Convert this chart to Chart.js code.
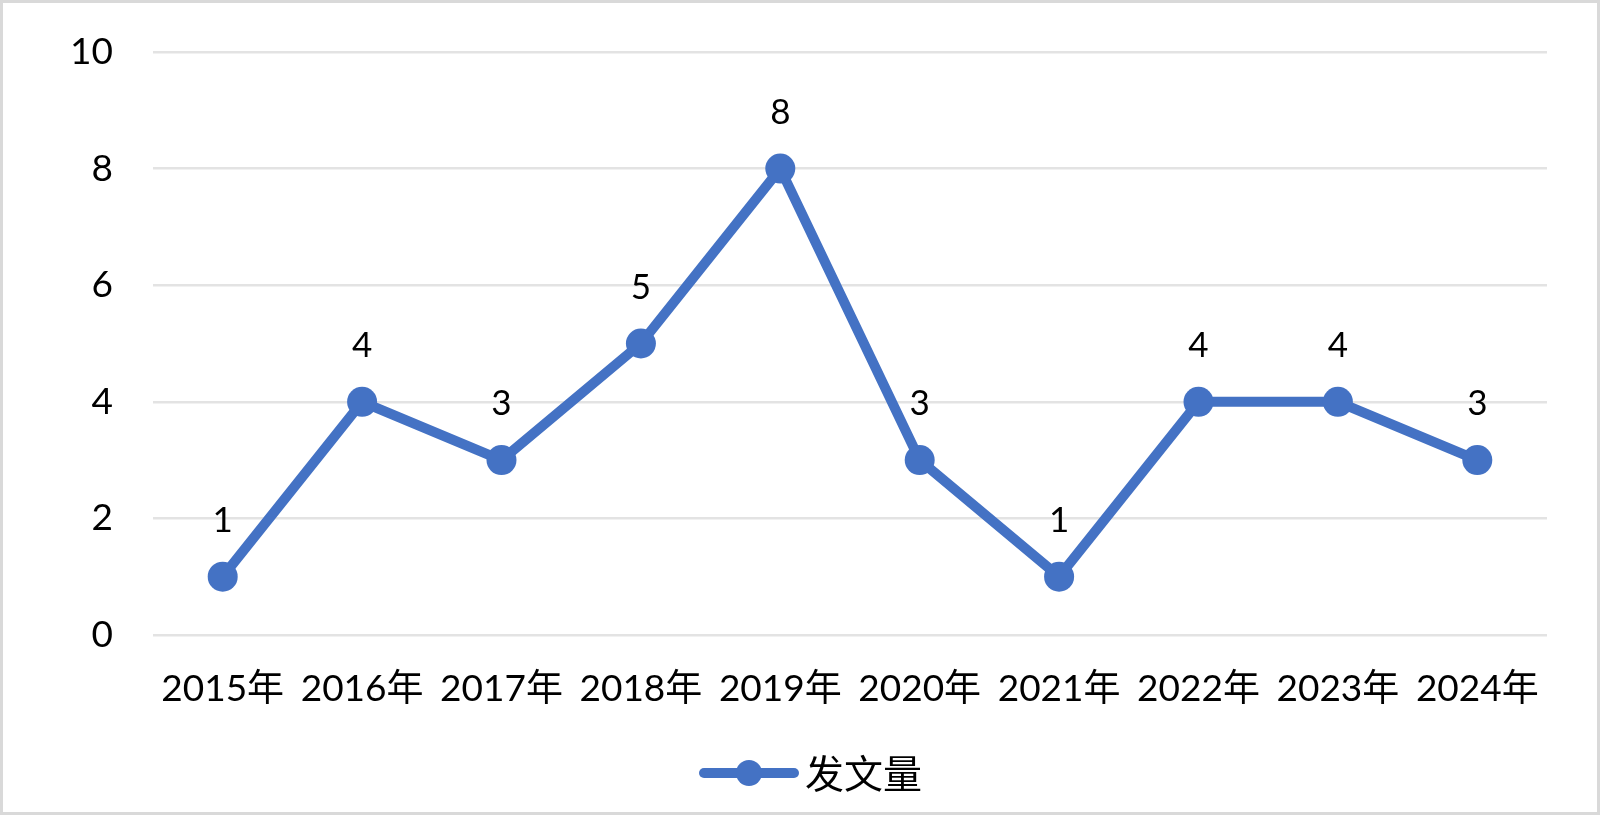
<!DOCTYPE html>
<html>
<head>
<meta charset="utf-8">
<script src="https://cdn.jsdelivr.net/npm/chart.js@4/dist/chart.umd.min.js"></script>
<style>
  html, body { margin: 0; padding: 0; background: #fff; }
  canvas { display: block; }
</style>
</head>
<body>
<canvas id="chart" width="1600" height="815"></canvas>
<script>
// Data
const years = ["2015年", "2016年", "2017年", "2018年", "2019年", "2020年", "2021年", "2022年", "2023年", "2024年"];
const counts = [1, 4, 3, 5, 8, 3, 1, 4, 4, 3];
const yTicks = [0, 2, 4, 6, 8, 10];
const seriesName = "发文量";

const blue = '#4472C4';
const latinFont = 'Lato, "Noto Sans CJK SC", sans-serif';

// frame round the whole picture
const framePlugin = {
    id: 'frame',
    beforeDraw(chart) {
        const c = chart.ctx;
        c.save();
        c.fillStyle = '#fff';
        c.fillRect(0, 0, chart.width, chart.height);
        c.strokeStyle = '#d9d9d9';
        c.lineWidth = 3;
        c.strokeRect(1.5, 1.5, chart.width - 3, chart.height - 3);
        c.restore();
    }
};

// value labels above each point
const valueLabels = {
    id: 'valueLabels',
    afterDatasetsDraw(chart) {
        const c = chart.ctx;
        const meta = chart.getDatasetMeta(0);
        c.save();
        c.font = '35px ' + latinFont;
        c.fillStyle = '#000';
        c.textAlign = 'center';
        c.textBaseline = 'middle';
        meta.data.forEach((pt, i) => {
            c.fillText(String(counts[i]), pt.x, pt.y - 56);
        });
        c.restore();
    }
};

// legend: line with marker and series name
const lineLegend = {
    id: 'lineLegend',
    afterDraw(chart) {
        const c = chart.ctx;
        const cy = 773;
        c.save();
        c.strokeStyle = blue;
        c.lineWidth = 10;
        c.lineCap = 'round';
        c.beginPath();
        c.moveTo(704, cy);
        c.lineTo(794, cy);
        c.stroke();
        c.fillStyle = blue;
        c.beginPath();
        c.arc(749, cy, 13, 0, Math.PI * 2);
        c.fill();
        c.fillStyle = '#000';
        c.font = '39px "Noto Sans CJK SC", sans-serif';
        c.textAlign = 'left';
        c.textBaseline = 'middle';
        c.fillText(seriesName, 805, cy);
        c.restore();
    }
};

const ctx = document.getElementById('chart').getContext('2d');
new Chart(ctx, {
    type: 'line',
    data: {
        labels: years,
        datasets: [{
            label: seriesName,
            data: counts,
            borderColor: blue,
            backgroundColor: blue,
            borderWidth: 10,
            borderJoinStyle: 'round',
            pointRadius: 15,
            pointHoverRadius: 15,
            pointBackgroundColor: blue,
            pointBorderWidth: 0,
            tension: 0,
            clip: false
        }]
    },
    options: {
        responsive: false,
        animation: false,
        devicePixelRatio: 1,
        layout: { padding: { top: 52, left: 0, right: 53, bottom: 100 } },
        plugins: {
            legend: { display: false },
            tooltip: { enabled: false }
        },
        scales: {
            x: {
                offset: true,
                grid: { display: false, drawTicks: false },
                border: { display: false },
                ticks: {
                    padding: 32,
                    color: '#000',
                    font: { family: latinFont, size: 37 },
                    maxRotation: 0,
                    autoSkip: false
                },
                afterFit(scale) { scale.height = 80; }
            },
            y: {
                min: 0,
                max: 10,
                afterBuildTicks(scale) { scale.ticks = yTicks.map(v => ({ value: v })); },
                grid: { color: '#e3e3e3', lineWidth: 2.5, drawTicks: false },
                border: { display: false },
                ticks: {
                    padding: 40,
                    color: '#000',
                    font: { family: latinFont, size: 37 }
                },
                afterFit(scale) {
                    scale.width = 153;
                    scale.paddingTop = 0;
                    scale.paddingBottom = 0;
                }
            }
        }
    },
    plugins: [framePlugin, valueLabels, lineLegend]
});
</script>
</body>
</html>
